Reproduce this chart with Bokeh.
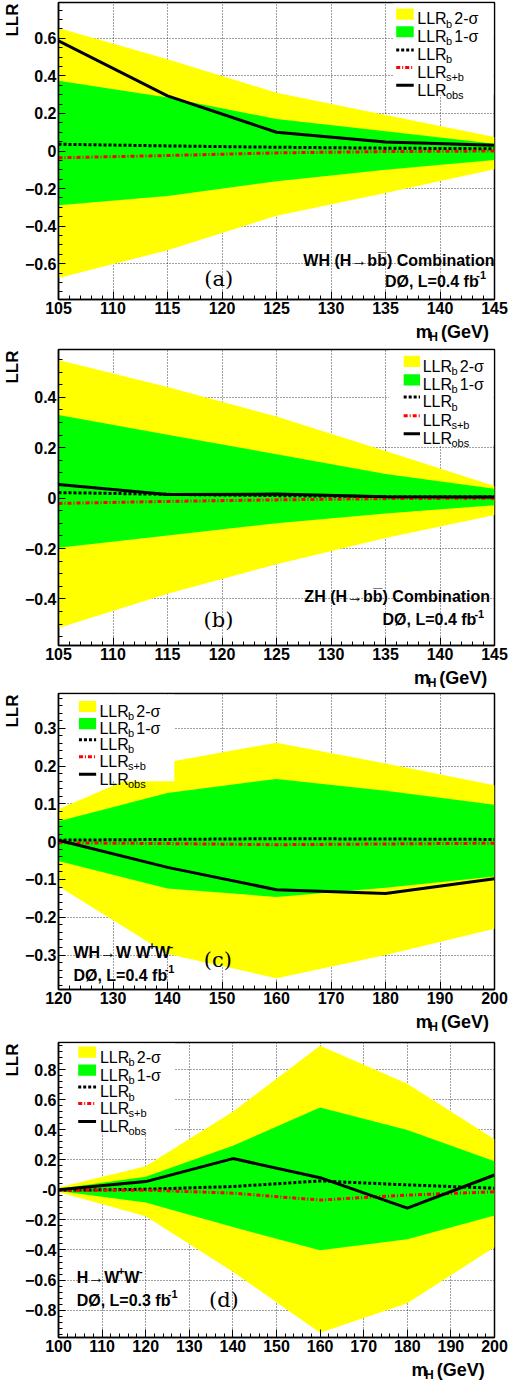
from bokeh.plotting import figure
from bokeh.models import Range1d, SingleIntervalTicker, Label, Title
from bokeh.layouts import column
from bokeh.embed import file_html
from bokeh.resources import INLINE

# ---------------- data ----------------
# (a) WH (H->bb) combination
mass_a = [105, 115, 125, 135, 145]
a_2s_hi = [0.654, 0.488, 0.310, 0.192, 0.074]
a_1s_hi = [0.374, 0.284, 0.170, 0.105, 0.039]
a_1s_lo = [-0.288, -0.240, -0.161, -0.100, -0.048]
a_2s_lo = [-0.676, -0.528, -0.344, -0.223, -0.097]
a_llr_b = [0.036, 0.027, 0.020, 0.015, 0.012]
a_llr_sb = [-0.036, -0.024, -0.010, -0.003, 0.000]
a_llr_obs = [0.586, 0.293, 0.100, 0.048, 0.031]

# (b) ZH (H->bb) combination
mass_b = [105, 115, 125, 135, 145]
b_2s_hi = [0.548, 0.441, 0.324, 0.187, 0.048]
b_1s_hi = [0.330, 0.252, 0.174, 0.096, 0.037]
b_1s_lo = [-0.197, -0.148, -0.100, -0.061, -0.028]
b_2s_lo = [-0.516, -0.380, -0.262, -0.158, -0.067]
b_llr_b = [0.022, 0.015, 0.010, 0.006, 0.005]
b_llr_sb = [-0.021, -0.013, -0.007, -0.002, 0.000]
b_llr_obs = [0.054, 0.014, 0.016, 0.005, 0.004]

# (c) WH -> W W+W-
mass_c = [120, 140, 160, 180, 200]
c_2s_hi = [0.086, 0.210, 0.262, 0.207, 0.149]
c_1s_hi = [0.054, 0.129, 0.166, 0.135, 0.098]
c_1s_lo = [-0.051, -0.124, -0.146, -0.122, -0.092]
c_2s_lo = [-0.118, -0.297, -0.361, -0.300, -0.230]
c_llr_b = [0.004, 0.006, 0.008, 0.007, 0.006]
c_llr_sb = [-0.003, -0.005, -0.008, -0.006, -0.004]
c_llr_obs = [0.004, -0.068, -0.127, -0.137, -0.098]

# (d) H -> W+W-
mass_d = [100, 120, 140, 160, 180, 200]
d_2s_hi = [0.015, 0.157, 0.520, 0.958, 0.705, 0.337]
d_1s_hi = [0.008, 0.087, 0.293, 0.548, 0.398, 0.190]
d_1s_lo = [-0.008, -0.084, -0.247, -0.402, -0.329, -0.171]
d_2s_lo = [-0.015, -0.176, -0.545, -0.951, -0.754, -0.381]
d_llr_b = [-0.003, 0.004, 0.022, 0.059, 0.033, 0.011]
d_llr_sb = [-0.003, -0.002, -0.022, -0.068, -0.035, -0.013]
d_llr_obs = [0.000, 0.055, 0.208, 0.081, -0.121, 0.099]

# ---------------- styling ----------------
YELLOW = "#ffff00"
GREEN = "#00ff00"
SANS = "Liberation Sans"
PAGE_W = 513

BOLD_W = {' ': 278, '(': 333, ')': 333, '+': 584, ',': 278, '-': 333, '.': 278, '=': 584,
          'A': 722, 'B': 722, 'C': 722, 'D': 722, 'G': 778, 'H': 722, 'L': 611, 'R': 722,
          'V': 667, 'W': 944, 'Z': 611, 'a': 556, 'b': 611, 'c': 556, 'e': 556, 'f': 333,
          'i': 278, 'm': 889, 'n': 611, 'o': 611, 's': 556, 't': 333, '\u00d8': 778,
          '\u2192': 1000, '\u0305': 0}
REG_W = {' ': 278, '-': 333, '+': 584, 'L': 556, 'R': 722, 'b': 556, 's': 500, 'o': 556,
         '\u03c3': 600}


def text_width(s, size, bold):
    table = BOLD_W if bold else REG_W
    return sum(table.get(ch, 556) for ch in s) / 1000.0 * size


def rich(p, X, Y, xpos, ybase, pieces, align="left", size=16, bold=True, font=SANS,
         sub_scale=0.66, sub_dy=5.0, sup_dy=-6.5):
    items = []
    for txt, kind in pieces:
        if kind == "gap":
            items.append((None, kind, 0, float(txt)))
            continue
        fs = size if kind == "n" else round(size * sub_scale)
        items.append((txt, kind, fs, text_width(txt, fs, bold)))
    total = sum(it[3] for it in items)
    x = xpos if align == "left" else xpos - total
    for txt, kind, fs, w in items:
        if kind == "gap":
            x += w
            continue
        dy = 0 if kind == "n" else (sub_dy if kind == "sub" else sup_dy)
        shown = txt.lstrip(" ")
        lead = text_width(txt[:len(txt) - len(shown)], fs, bold)
        p.add_layout(Label(x=X(x + lead), y=Y(ybase + dy), text=shown, text_font=font,
                           text_font_size=f"{fs}px",
                           text_font_style="bold" if bold else "normal",
                           text_color="black", text_align="left",
                           text_baseline="alphabetic"))
        x += w


def blank_fig(w, h):
    # plain drawing strip: x in px from the left, y in px from the bottom
    f = figure(width=w, height=h, x_range=Range1d(0, w), y_range=Range1d(0, h),
               output_backend="svg", toolbar_location=None,
               x_axis_location=None, y_axis_location=None,
               min_border_left=0, min_border_right=0, min_border_top=0, min_border_bottom=0)
    f.outline_line_color = None
    f.background_fill_color = "white"
    f.border_fill_color = "white"
    for g in f.grid:
        g.visible = False
    return f


def make_panel(xr, yr, xint, yint, yminor, ref, bt, frame_h, zero_label):
    L, T, W, H = ref
    bl = int(round(L)) - 8
    br = 521 - int(round(L + W))
    bb = 22
    height = bt + frame_h + bb
    p = figure(width=PAGE_W, height=height, x_range=Range1d(*xr), y_range=Range1d(*yr),
               output_backend="svg", toolbar_location=None,
               min_border_left=bl, min_border_right=br, min_border_top=bt, min_border_bottom=bb)
    p.background_fill_color = "white"
    p.border_fill_color = "white"
    p.outline_line_color = "black"
    p.outline_line_width = 1.5
    p.outline_line_alpha = 1.0

    xt = SingleIntervalTicker(interval=xint, num_minor_ticks=5)
    yt = SingleIntervalTicker(interval=yint, num_minor_ticks=yminor)
    p.xaxis[0].ticker = xt
    p.yaxis[0].ticker = yt
    p.xgrid[0].ticker = xt
    p.ygrid[0].ticker = yt
    for g in (p.xgrid[0], p.ygrid[0]):
        g.grid_line_color = "black"
        g.grid_line_dash = "1 2"
        g.grid_line_alpha = 0.75
        g.grid_line_width = 1
    for ax in (p.xaxis[0], p.yaxis[0]):
        ax.major_tick_in = 8
        ax.major_tick_out = 0
        ax.minor_tick_in = 4
        ax.minor_tick_out = 0
        ax.axis_line_width = 1.5
        ax.axis_line_color = "black"
        ax.major_tick_line_color = "black"
        ax.minor_tick_line_color = "black"
        ax.major_label_text_font = SANS
        ax.major_label_text_font_size = "16px"
        ax.major_label_text_font_style = "bold"
        ax.major_label_text_color = "black"
    p.yaxis[0].major_tick_in = 7
    p.xaxis[0].major_label_standoff = 2
    p.yaxis[0].major_label_standoff = 2

    p.yaxis[0].major_label_overrides = {0: zero_label}

    # y-axis title: vertical, at the top of the left side
    p.add_layout(Title(text="LLR", align="right", vertical_align="bottom", offset=1,
                       standoff=0, text_font=SANS, text_font_size="17px",
                       text_font_style="bold", text_color="black"), "left")

    def X(xp):
        return xr[0] + (xp - L) / W * (xr[1] - xr[0])

    def Y(yp):
        return yr[1] - (yp - T) / H * (yr[1] - yr[0])

    return p, X, Y


def mh_strip(h, right_img, base):
    s = blank_fig(PAGE_W, h)
    rich(s, lambda v: v - 8, lambda v: h - v, right_img, base,
         [("m", "n"), ("H", "sub"), (" (GeV)", "n")], align="right", size=18, sub_dy=4.5)
    return s


def draw_data(p, m, s2hi, s1hi, s1lo, s2lo, lb, lsb, lobs):
    p.varea(x=m, y1=s2lo, y2=s2hi, fill_color=YELLOW)
    p.varea(x=m, y1=s1lo, y2=s1hi, fill_color=GREEN)
    p.line(m, lb, line_color="black", line_width=3, line_dash="3 2")
    p.line(m, lsb, line_color="red", line_width=3, line_dash="4 2 1 2")
    p.line(m, lobs, line_color="black", line_width=3)


def draw_legend(p, X, Y, box, sx0, sx1, rows, tx):
    bx0, by0, bx1, by1 = box
    p.quad(left=[X(bx0)], right=[X(bx1)], top=[Y(by0)], bottom=[Y(by1)],
           fill_color="white", line_color=None)
    names = [[("LLR", "n"), ("b", "sub"), ("2.5", "gap"), ("2-\u03c3", "n")],
             [("LLR", "n"), ("b", "sub"), ("2.5", "gap"), ("1-\u03c3", "n")],
             [("LLR", "n"), ("b", "sub")],
             [("LLR", "n"), ("s+b", "sub")],
             [("LLR", "n"), ("obs", "sub")]]
    p.quad(left=[X(sx0)], right=[X(sx1)], top=[Y(rows[0] - 5.7)], bottom=[Y(rows[0] + 5.7)],
           fill_color=YELLOW, line_color=None)
    p.quad(left=[X(sx0)], right=[X(sx1)], top=[Y(rows[1] - 5.7)], bottom=[Y(rows[1] + 5.7)],
           fill_color=GREEN, line_color=None)
    p.line([X(sx0), X(sx1)], [Y(rows[2]), Y(rows[2])], line_color="black", line_width=3,
           line_dash="3 2")
    p.line([X(sx0), X(sx1)], [Y(rows[3]), Y(rows[3])], line_color="red", line_width=3,
           line_dash="4 2 1 2")
    p.line([X(sx0), X(sx1)], [Y(rows[4]), Y(rows[4])], line_color="black", line_width=3)
    for r, pcs in zip(rows, names):
        rich(p, X, Y, tx, r + 5.0, pcs, size=16, bold=False, sub_scale=0.66, sub_dy=4.7)


def tag(p, X, Y, xc, yb, txt):
    p.add_layout(Label(x=X(xc), y=Y(yb), text=txt, text_font="DejaVu Serif",
                       text_font_size="21px", text_color="black", text_align="center",
                       text_baseline="alphabetic"))


# ---------------- panel (a) ----------------
ref_a = (58, 3.3, 448, 301.7)
pa, Xa, Ya = make_panel((105, 145), (-0.79, 0.79), 5, 0.2, 4, ref_a, 2, 297, "0")
draw_data(pa, mass_a, a_2s_hi, a_1s_hi, a_1s_lo, a_2s_lo, a_llr_b, a_llr_sb, a_llr_obs)
draw_legend(pa, Xa, Ya, (402, 4.3, 505, 97), 405, 423, [15, 33, 51.5, 69.3, 87.3], 426.7)
rich(pa, Xa, Ya, 500.7, 265, [("WH (H\u2192bb\u0305) Combination", "n")], align="right")
rich(pa, Xa, Ya, 497, 287, [("D\u00d8, L=0.4 fb", "n"), ("-1", "sup")], align="right")
tag(pa, Xa, Ya, 222.7, 284, "(a)")
ma = mh_strip(22, 506, 10.5)

# ---------------- panel (b) ----------------
ref_b = (60, 355, 445, 301)
pb, Xb, Yb = make_panel((105, 145), (-0.585, 0.59), 5, 0.2, 4, ref_b, 6, 296, "0")
draw_data(pb, mass_b, b_2s_hi, b_1s_hi, b_1s_lo, b_2s_lo, b_llr_b, b_llr_sb, b_llr_obs)
draw_legend(pb, Xb, Yb, (397, 356, 504, 452), 412.3, 429, [367, 385.8, 403.3, 422.3, 440.7], 431.7)
rich(pb, Xb, Yb, 496.7, 606.5, [("ZH (H\u2192bb\u0305) Combination", "n")], align="right")
rich(pb, Xb, Yb, 494.3, 630, [("D\u00d8, L=0.4 fb", "n"), ("-1", "sup")], align="right")
tag(pb, Xb, Yb, 223.3, 630, "(b)")
mb = mh_strip(22, 504, 10.5)

# ---------------- panel (c) ----------------
ref_c = (58, 704, 448, 301)
pc, Xc, Yc = make_panel((120, 200), (-0.391, 0.392), 10, 0.1, 5, ref_c, 4, 296, "0")
draw_data(pc, mass_c, c_2s_hi, c_1s_hi, c_1s_lo, c_2s_lo, c_llr_b, c_llr_sb, c_llr_obs)
draw_legend(pc, Xc, Yc, (59, 705, 177, 793.3), 79, 96.7, [717.2, 734.7, 751, 768.3, 786], 100)
rich(pc, Xc, Yc, 73.3, 967, [("WH\u2192W W", "n"), ("+", "sup"), ("W", "n"), ("-", "sup")])
rich(pc, Xc, Yc, 73.3, 990.5, [("D\u00d8, L=0.4 fb", "n"), ("-1", "sup")])
tag(pc, Xc, Yc, 221.7, 975, "(c)")
mc = mh_strip(22, 506, 10.5)

# ---------------- panel (d) ----------------
ref_d = (53, 1058.3, 449, 298.4)
pd_, Xd, Yd = make_panel((100, 200), (-0.982, 0.98), 10, 0.2, 5, ref_d, 9, 295, "-0")
draw_data(pd_, mass_d, d_2s_hi, d_1s_hi, d_1s_lo, d_2s_lo, d_llr_b, d_llr_sb, d_llr_obs)
draw_legend(pd_, Xd, Yd, (54.3, 1059.3, 173, 1150), 73.3, 91.7,
            [1068, 1086.3, 1103.3, 1120, 1138.3], 95.7)
rich(pd_, Xd, Yd, 71.7, 1296, [("H\u2192W", "n"), ("+", "sup"), ("W", "n"), ("-", "sup")])
rich(pd_, Xd, Yd, 71.7, 1319, [("D\u00d8, L=0.3 fb", "n"), ("-1", "sup")])
tag(pd_, Xd, Yd, 223.3, 1318.3, "(d)")
md = mh_strip(22, 501, 10.5)

layout = column(pa, ma, pb, mb, pc, mc, pd_, md, spacing=0)
open("out.html", "w").write(file_html(layout, INLINE))
